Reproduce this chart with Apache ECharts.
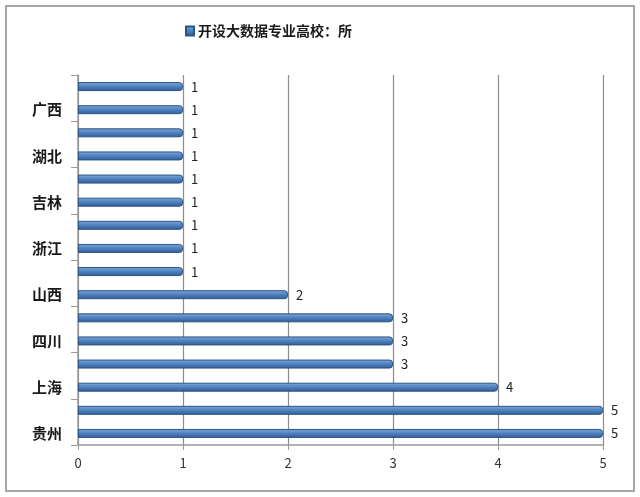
<!DOCTYPE html>
<html>
<head>
<meta charset="utf-8">
<script src="https://cdn.jsdelivr.net/npm/echarts@6/dist/echarts.min.js"></script>
<style>
  html, body { margin: 0; padding: 0; background: #fff; }
  #chart { width: 640px; height: 497px; }
</style>
</head>
<body>
<div id="chart"></div>
<script>
// categories from bottom to top (only every other one is labelled in the picture)
const provinces = ['贵州', '北京', '上海', '广东', '四川', '江苏', '山西', '湖南',
  '浙江', '天津', '吉林', '河北', '湖北', '福建', '广西', '重庆']
const schoolCounts = [5, 5, 4, 3, 3, 3, 2, 1, 1, 1, 1, 1, 1, 1, 1, 1]
const seriesName = '开设大数据专业高校：所'

const chart = echarts.init(document.getElementById('chart'))

const option = {
  backgroundColor: '#fff',
  animation: false,
  textStyle: { fontFamily: '"Noto Sans CJK SC", "Noto Sans", sans-serif' },
  // grey frame around the whole chart
  graphic: [{
    type: 'rect',
    shape: { x: 6, y: 6, width: 628, height: 485 },
    style: { fill: 'none', stroke: '#a6a6a6', lineWidth: 2 },
    silent: true
  }],
  legend: {
    data: [{ name: seriesName, icon: 'rect' }],
    left: 180,
    top: 19,
    itemWidth: 8,
    itemHeight: 9,
    itemGap: 4,
    textStyle: { fontSize: 14, color: '#1a1a1a', fontWeight: 'bold', padding: [0, 0, 0, -1] }
  },
  grid: { left: 78, right: 37, top: 75, bottom: 52, containLabel: false },
  xAxis: {
    type: 'value',
    min: 0,
    max: 5,
    interval: 1,
    axisLine: { show: true, lineStyle: { color: '#9a9a9a', width: 1.5 } },
    axisTick: { show: true, length: 5, lineStyle: { color: '#9a9a9a' } },
    axisLabel: { fontSize: 13, color: '#333', margin: 12 },
    splitLine: { show: true, lineStyle: { color: '#8c8c8c', width: 1.2 } }
  },
  yAxis: {
    type: 'category',
    data: provinces,
    axisLine: { show: true, lineStyle: { color: '#9a9a9a', width: 1.5 } },
    axisTick: { show: true, length: 7, lineStyle: { color: '#9a9a9a' } },
    axisLabel: { interval: 1, fontSize: 15, color: '#1a1a1a', fontWeight: 'bold', margin: 16 }
  },
  series: [{
    name: seriesName,
    type: 'bar',
    data: schoolCounts,
    barWidth: 9,
    itemStyle: {
      color: new echarts.graphic.LinearGradient(0, 0, 0, 1, [
        { offset: 0, color: '#7fa8da' },
        { offset: 0.5, color: '#4f81bd' },
        { offset: 1, color: '#2f5b93' }
      ]),
      borderColor: '#2c5486',
      borderWidth: 1,
      borderRadius: [0, 3, 3, 0]
    },
    label: {
      show: true,
      position: 'right',
      distance: 8,
      fontSize: 13,
      color: '#222'
    }
  }]
}

chart.setOption(option)
</script>
</body>
</html>
